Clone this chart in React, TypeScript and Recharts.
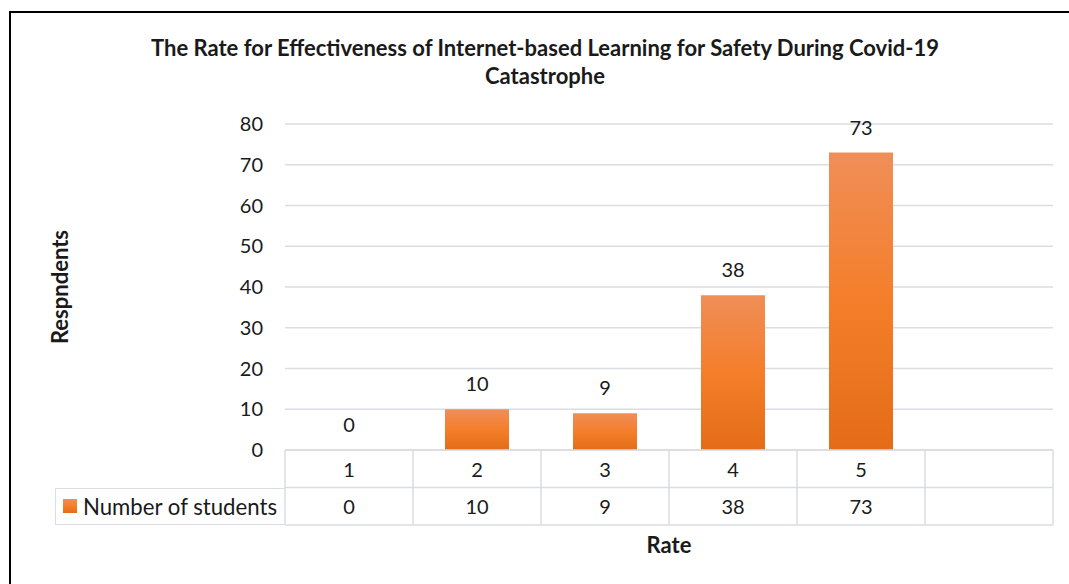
import React from 'react';
import { ComposedChart, Bar, Line, XAxis, YAxis, CartesianGrid, LabelList, Legend } from 'recharts';

const categories = ['1', '2', '3', '4', '5', ''];
const studentCounts: (number | null)[] = [0, 10, 9, 38, 73, null];
const yTicks = [0, 10, 20, 30, 40, 50, 60, 70, 80];
const seriesName = 'Number of students';
const titleLines = [
  'The Rate for Effectiveness of Internet-based Learning for Safety During Covid-19',
  'Catastrophe',
];
const yAxisTitle = 'Respndents';
const xAxisTitle = 'Rate';

const data = categories.map((rate, i) => ({ rate, students: studentCounts[i] }));

const FONT = 'Lato, "Open Sans", sans-serif';
const TEXT = '#1a1a1a';
const GRID = '#d9dde3';
const ROW_H = 37.5;

function TableTick(props: any) {
  const { x, y, payload, width } = props;
  const i = payload && payload.index != null ? payload.index : props.index;
  const half = (width || 768) / categories.length / 2;
  const v = studentCounts[i];
  const left = x - half;
  const right = x + half;
  const ls = { stroke: GRID, strokeWidth: 1.5 };
  return (
    <g>
      <line x1={left} x2={right} y1={y} y2={y} {...ls} />
      <line x1={left} x2={right} y1={y + ROW_H} y2={y + ROW_H} {...ls} />
      <line x1={left} x2={right} y1={y + 2 * ROW_H} y2={y + 2 * ROW_H} {...ls} />
      <line x1={left} x2={left} y1={y} y2={y + 2 * ROW_H} {...ls} />
      {i === categories.length - 1 && <line x1={right} x2={right} y1={y} y2={y + 2 * ROW_H} {...ls} />}
      <text x={x} y={y + ROW_H / 2} textAnchor="middle" dominantBaseline="central" fontSize={20} fill={TEXT} fontFamily={FONT}>
        {payload.value}
      </text>
      <text x={x} y={y + ROW_H * 1.5} textAnchor="middle" dominantBaseline="central" fontSize={20} fill={TEXT} fontFamily={FONT}>
        {v == null ? '' : v}
      </text>
    </g>
  );
}

function LegendCell(props: any) {
  const item = props.payload && props.payload.find((p: any) => p.value === seriesName);
  const name = item ? item.value : seriesName;
  return (
    <div
      style={{
        boxSizing: 'border-box',
        width: 230,
        height: ROW_H,
        border: `1.5px solid ${GRID}`,
        borderRight: 'none',
        display: 'flex',
        alignItems: 'center',
        fontFamily: FONT,
        fontSize: 22.2,
        color: TEXT,
        whiteSpace: 'nowrap',
      }}
    >
      <span
        style={{
          display: 'inline-block',
          width: 14,
          height: 14,
          marginLeft: 7,
          marginRight: 6,
          background: 'linear-gradient(#F08E58, #F47E2A 50%, #E46C19)',
        }}
      />
      <span>{name}</span>
    </div>
  );
}

export default function App() {
  return (
    <div
      style={{
        position: 'absolute',
        left: 0,
        top: 0,
        width: 1069,
        height: 584,
        overflow: 'hidden',
        background: '#ffffff',
      }}
    >
      <div
        style={{
          position: 'absolute',
          left: 9,
          top: 11,
          width: 1200,
          height: 700,
          borderLeft: '2px solid #000',
          borderTop: '2px solid #000',
          boxSizing: 'border-box',
        }}
      />
      <div
        style={{
          position: 'absolute',
          left: 0,
          top: 34,
          width: 1090,
          textAlign: 'center',
          fontFamily: FONT,
          fontWeight: 700,
          fontSize: 22,
          lineHeight: '28px',
          color: TEXT,
        }}
      >
        {titleLines.map((t, i) => (
          <div key={i}>{t}</div>
        ))}
      </div>
      <div style={{ position: 'absolute', left: 0, top: 0 }}>
        <ComposedChart
          width={1069}
          height={584}
          data={data}
          margin={{ top: 124, right: 16, left: 225, bottom: 24 }}
          barCategoryGap="25%"
        >
          <defs>
            <linearGradient id="barGrad" x1="0" y1="0" x2="0" y2="1">
              <stop offset="0%" stopColor="#F08E58" />
              <stop offset="50%" stopColor="#F47E2A" />
              <stop offset="100%" stopColor="#E46C19" />
            </linearGradient>
          </defs>
          <CartesianGrid vertical={false} stroke={GRID} strokeWidth={1.5} />
          <XAxis
            dataKey="rate"
            height={110}
            tickLine={false}
            axisLine={false}
            tickSize={0}
            tickMargin={0}
            interval={0}
            tick={<TableTick />}
            label={{
              value: xAxisTitle,
              position: 'insideBottom',
              offset: 7,
              style: { fontFamily: FONT, fontWeight: 700, fontSize: 22, fill: TEXT },
            }}
          />
          <YAxis
            width={60}
            domain={[0, 80]}
            ticks={yTicks}
            interval={0}
            tickLine={false}
            axisLine={false}
            tickMargin={16}
            tick={{ fontFamily: FONT, fontSize: 20, fill: TEXT }}
            label={{
              value: yAxisTitle,
              angle: -90,
              position: 'left',
              offset: 165,
              style: { fontFamily: FONT, fontWeight: 700, fontSize: 22, fill: TEXT, textAnchor: 'middle' },
            }}
          />
          <Legend
            layout="horizontal"
            verticalAlign="middle"
            align="center"
            wrapperStyle={{ left: 55, top: 487.5, width: 230, height: ROW_H }}
            content={<LegendCell />}
          />
          <Bar dataKey="students" name={seriesName} fill="url(#barGrad)" isAnimationActive={false} />
          <Line
            dataKey="students"
            name="labels"
            stroke="none"
            dot={false}
            activeDot={false}
            legendType="none"
            isAnimationActive={false}
          >
            <LabelList
              dataKey="students"
              position="top"
              offset={18}
              style={{ fontFamily: FONT, fontSize: 20, fill: TEXT }}
            />
          </Line>
        </ComposedChart>
      </div>
    </div>
  );
}
